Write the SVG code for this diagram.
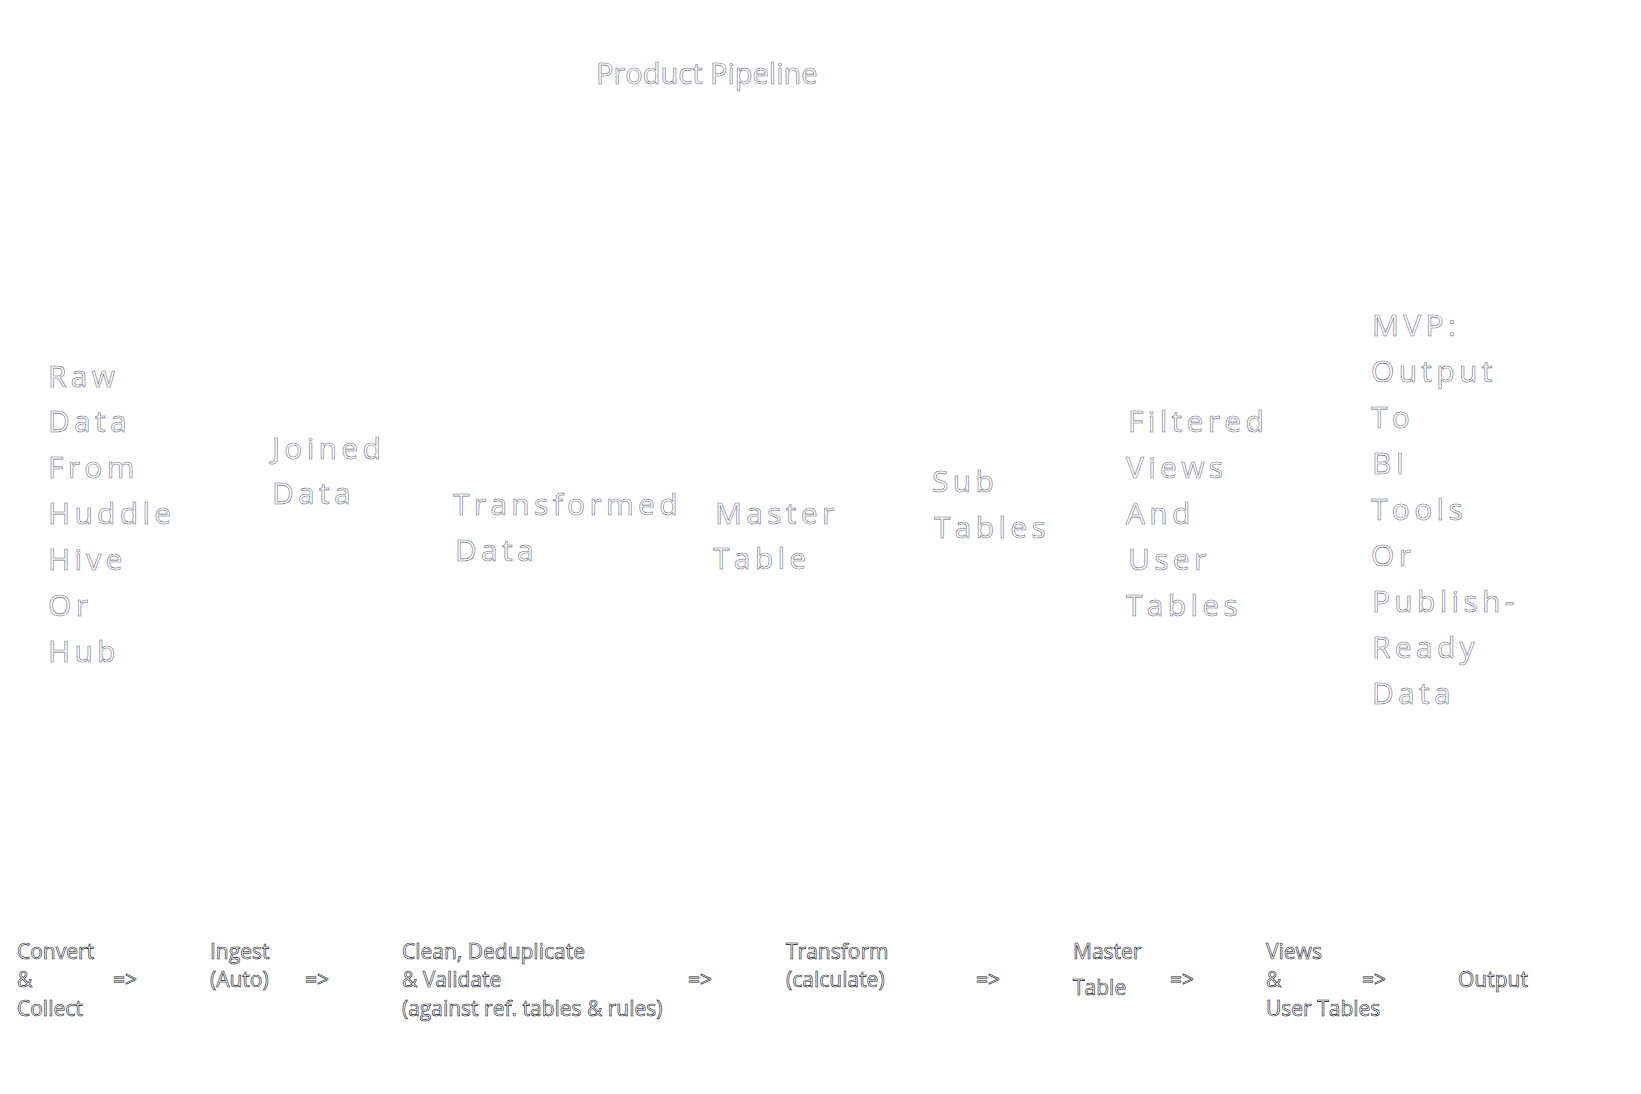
<svg xmlns="http://www.w3.org/2000/svg" width="1641" height="1094" viewBox="0 0 1641 1094">
<style>
  .title { font-family: "Open Sans", "Liberation Sans", sans-serif; font-size: 29px; fill: #ffffff; stroke: #6f6f80; stroke-width: 0.6px; }
  .node { font-family: "Open Sans", "Liberation Sans", sans-serif; font-size: 30px; letter-spacing: 4.3px; fill: #ffffff; stroke: #6f6f80; stroke-width: 0.6px; }
  .step { font-family: "Open Sans", "Liberation Sans", sans-serif; font-size: 21px; fill: #ffffff; stroke: #111122; stroke-width: 0.6px; }
</style>
<rect x="0" y="0" width="1641" height="1094" fill="#ffffff"/>
<text class="title" x="596" y="84">Product Pipeline</text>

<g id="node-raw-data">
  <text class="node" x="48" y="387">
    <tspan x="48" y="387">Raw</tspan>
    <tspan x="48" y="432">Data</tspan>
    <tspan x="48" y="478">From</tspan>
    <tspan x="48" y="524">Huddle</tspan>
    <tspan x="48" y="570">Hive</tspan>
    <tspan x="48" y="616">Or</tspan>
    <tspan x="48" y="662">Hub</tspan>
  </text>
</g>
<g id="node-joined-data">
  <text class="node" x="272" y="459">
    <tspan x="272" y="459">Joined</tspan>
    <tspan x="272" y="504">Data</tspan>
  </text>
</g>
<g id="node-transformed-data">
  <text class="node" x="453" y="515">
    <tspan x="453" y="515">Transformed</tspan>
    <tspan x="455" y="561">Data</tspan>
  </text>
</g>
<g id="node-master-table">
  <text class="node" x="715" y="524">
    <tspan x="715" y="524">Master</tspan>
    <tspan x="713" y="569">Table</tspan>
  </text>
</g>
<g id="node-sub-tables">
  <text class="node" x="932" y="492">
    <tspan x="932" y="492">Sub</tspan>
    <tspan x="934" y="538">Tables</tspan>
  </text>
</g>
<g id="node-filtered-views">
  <text class="node" x="1128" y="432">
    <tspan x="1128" y="432">Filtered</tspan>
    <tspan x="1126" y="478">Views</tspan>
    <tspan x="1126" y="524">And</tspan>
    <tspan x="1128" y="570">User</tspan>
    <tspan x="1126" y="616">Tables</tspan>
  </text>
</g>
<g id="node-mvp-output">
  <text class="node" x="1372" y="336">
    <tspan x="1372" y="336">MVP:</tspan>
    <tspan x="1371" y="382">Output</tspan>
    <tspan x="1371" y="428">To</tspan>
    <tspan x="1372" y="474">BI</tspan>
    <tspan x="1371" y="520">Tools</tspan>
    <tspan x="1371" y="566">Or</tspan>
    <tspan x="1372" y="612">Publish-</tspan>
    <tspan x="1372" y="658">Ready</tspan>
    <tspan x="1372" y="704">Data</tspan>
  </text>
</g>

<g id="step-convert">
  <text class="step"><tspan x="17" y="959">Convert</tspan><tspan x="17" y="987">&amp;</tspan><tspan x="17" y="1016">Collect</tspan></text>
</g>
<g id="step-ingest">
  <text class="step"><tspan x="210" y="959">Ingest</tspan><tspan x="210" y="987">(Auto)</tspan></text>
</g>
<g id="step-clean">
  <text class="step"><tspan x="402" y="959">Clean, Deduplicate</tspan><tspan x="402" y="987">&amp; Validate</tspan><tspan x="402" y="1016">(against ref. tables &amp; rules)</tspan></text>
</g>
<g id="step-transform">
  <text class="step"><tspan x="786" y="959">Transform</tspan><tspan x="786" y="987">(calculate)</tspan></text>
</g>
<g id="step-master">
  <text class="step"><tspan x="1073" y="959">Master</tspan><tspan x="1073" y="995">Table</tspan></text>
</g>
<g id="step-views">
  <text class="step"><tspan x="1266" y="959">Views</tspan><tspan x="1266" y="987">&amp;</tspan><tspan x="1266" y="1016">User Tables</tspan></text>
</g>
<g id="step-output">
  <text class="step" x="1458" y="987">Output</text>
</g>

<g id="connectors">
  <text class="step" x="113" y="987">=&gt;</text>
  <text class="step" x="305" y="987">=&gt;</text>
  <text class="step" x="688" y="987">=&gt;</text>
  <text class="step" x="976" y="987">=&gt;</text>
  <text class="step" x="1170" y="987">=&gt;</text>
  <text class="step" x="1362" y="987">=&gt;</text>
</g>
</svg>
